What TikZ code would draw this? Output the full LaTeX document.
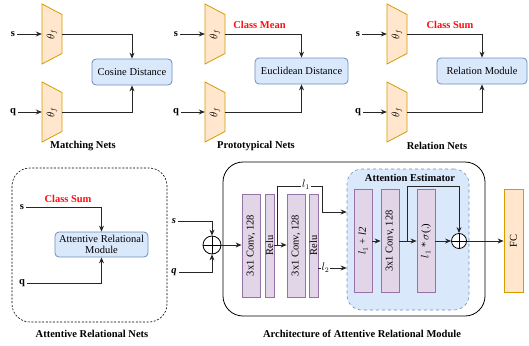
\documentclass[tikz,border=0pt]{standalone}
\usepackage{fontspec}
\setmainfont{Liberation Serif}
\usetikzlibrary{arrows.meta,calc}
\definecolor{orf}{HTML}{FFE6CC}
\definecolor{ors}{HTML}{D79B00}
\definecolor{blf}{HTML}{DAE8FC}
\definecolor{bls}{HTML}{6C8EBF}
\definecolor{puf}{HTML}{E1D5E7}
\definecolor{pus}{HTML}{9673A6}
\definecolor{myred}{HTML}{FF0D0D}
\newcommand\mytrap[3]{%
  \draw[trapst] ({#2-10},{#3-30}) -- ({#2+10},{#3-19.5}) -- ({#2+10},{#3+19.5}) -- ({#2-10},{#3+30}) -- cycle;
  \node[inner sep=0pt, minimum width=20pt, minimum height=39pt] (#1) at (#2,#3) {\rotatebox{90}{$\theta_f$}};}
\begin{document}
\begin{tikzpicture}[x=1pt,y=-1pt,
  font=\fontsize{10.5}{12}\selectfont,
  >={Stealth[length=6pt,width=5pt]},
  conn/.style={draw=black!85, line width=0.8pt},
  trapst/.style={draw=ors, fill=orf, line width=0.8pt},
  bluebox/.style={draw=bls, fill=blf, rounded corners=4pt, line width=0.8pt, inner sep=0pt, align=center},
  pbox/.style={draw=pus, fill=puf, line width=0.8pt, inner sep=0pt, minimum height=103pt},
  fcbox/.style={draw=ors, fill=orf, line width=0.8pt, inner sep=0pt, minimum height=103pt, minimum width=19pt},
  estst/.style={draw=bls, fill=blf, dashed, line width=0.6pt, rounded corners=15pt, inner sep=0pt},
  plus/.style={circle, draw=black, line width=0.8pt, fill=white, inner sep=0pt,
    path picture={\draw[line width=0.8pt] (path picture bounding box.north) -- (path picture bounding box.south)
      (path picture bounding box.west) -- (path picture bounding box.east);}},
  io/.style={font=\fontsize{10.5}{12}\selectfont\bfseries, inner sep=2pt},
  ioi/.style={font=\fontsize{10.5}{12}\selectfont\bfseries\itshape, inner sep=2pt},
  redlab/.style={font=\fontsize{10.5}{12}\selectfont\bfseries, text=myred},
  captxt/.style={font=\fontsize{10.5}{12}\selectfont\bfseries},
  lbl/.style={fill=white, inner sep=1pt}
]
\useasboundingbox (0,0) rectangle (529,345);

% ---------- Matching Nets
\mytrap{t1}{52}{34}
\mytrap{t2}{52}{112}
\node[io] (s1) at (13,34) {s};
\node[io] (q1) at (13,112) {q};
\node[bluebox, minimum width=80pt, minimum height=26pt] (cos) at (132,72) {Cosine Distance};
\draw[conn,->] (s1) -- (t1.west);
\draw[conn,->] (q1) -- (t2.west);
\draw[conn,->] (t1.east) -| (cos.north);
\draw[conn,->] (t2.east) -| (cos.south);
\node[captxt] (cap1) at (83,146) {Matching Nets};

% ---------- Prototypical Nets
\mytrap{t3}{215}{34}
\mytrap{t4}{215}{112}
\node[io] (s2) at (176,34) {s};
\node[io] (q2) at (176,112) {q};
\node[bluebox, minimum width=93pt, minimum height=26pt] (euc) at (301.5,71) {Euclidean Distance};
\draw[conn,->] (s2) -- (t3.west);
\draw[conn,->] (q2) -- (t4.west);
\draw[conn,->] (t3.east) -| (euc.north);
\draw[conn,->] (t4.east) -| (euc.south);
\node[redlab] (cm) at (259.5,25) {Class Mean};
\node[captxt] (cap2) at (256,146) {Prototypical Nets};

% ---------- Relation Nets
\mytrap{t5}{397}{34}
\mytrap{t6}{397}{112}
\node[io] (s3) at (358,34) {s};
\node[io] (q3) at (358,112) {q};
\node[bluebox, minimum width=90pt, minimum height=26pt] (rel) at (482,71) {Relation Module};
\draw[conn,->] (s3) -- (t5.west);
\draw[conn,->] (q3) -- (t6.west);
\draw[conn,->] (t5.east) -| (rel.north);
\draw[conn,->] (t6.east) -| (rel.south);
\node[redlab] (cs) at (450,25) {Class Sum};
\node[captxt] (cap3) at (437,146) {Relation Nets};

% ---------- Attentive Relational Nets
\draw[line width=0.6pt, dash pattern=on 2pt off 1.6pt, rounded corners=18pt] (12,168) rectangle (167,322);
\node[io] (s4) at (22,207) {s};
\node[io] (q4) at (22,283) {q};
\node[bluebox, minimum width=93pt, minimum height=25pt] (arm) at (101.5,244.5) {Attentive Relational\\[-1pt]Module};
\draw[conn,->] (s4) -| (arm.north);
\draw[conn,->] (q4) -| (arm.south);
\node[redlab] (cs2) at (68,199) {Class Sum};
\node[captxt] (cap4) at (92,334) {Attentive Relational Nets};

% ---------- Architecture
\draw[line width=0.8pt, rounded corners=20pt] (223,162) rectangle (485,316);
\node[ioi] (s5) at (174,221) {s};
\node[ioi] (q5) at (174,272) {q};
\node[plus, minimum size=18pt] (c1) at (212,245) {};
\draw[conn,->] (s5) -| (c1.north);
\draw[conn,->] (q5) -| (c1.south);

\node[pbox, minimum width=18pt] (conv1) at (251,245.5) {\rotatebox{90}{3x1 Conv, 128}};
\node[pbox, minimum width=9pt] (relu1) at (269.5,245.5) {\rotatebox{90}{Relu}};
\node[pbox, minimum width=18pt] (conv2) at (296,245.5) {\rotatebox{90}{3x1 Conv, 128}};
\node[pbox, minimum width=9pt] (relu2) at (313.5,245.5) {\rotatebox{90}{Relu}};
\draw[conn,->] (c1.east) -- (conv1.west |- c1.east);
\draw[conn,->] (relu1.east |- c1.east) -- (conv2.west |- c1.east);

\node[estst, minimum width=122pt, minimum height=141pt] (est) at (408,239.5) {};
\node[captxt] (esttitle) at (410,178) {Attention Estimator};

\coordinate (y186) at (0,186);
\coordinate (y212) at (0,212);
\coordinate (y268) at (0,268);
\coordinate (br1) at ($(relu1.east |- c1.east)+(3,0)$);
\coordinate (k1) at (322,186);
\draw[conn,->] (br1) |- (k1) |- (est.west |- y212);
\node[lbl] (l1lab) at (306,185) {$l_1$};
\draw[conn,->] (relu2.east |- y268) -- (est.west |- y268) node[lbl, pos=0.25] (l2lab) {$l_2$};

\node[pbox, minimum width=18pt] (e1) at (363,241) {\rotatebox{90}{$l_1$ + \textit{l2}}};
\node[pbox, minimum width=18pt] (e2) at (390,241) {\rotatebox{90}{3x1 Conv, 128}};
\node[pbox, minimum width=18pt] (e3) at (426,241) {\rotatebox{90}{$l_1$ * $\sigma$(.)}};
\node[plus, minimum size=15pt] (c2) at (459,241) {};
\node[fcbox] (fc) at (513.5,241) {\rotatebox{90}{FC}};
\draw[conn,->] (e1) -- (e2);
\draw[conn,->] (e2) -- (e3);
\draw[conn,->] (e3) -- (c2);
\draw[conn,->] (c2) -- (fc);
\coordinate (br2) at ($(e2.east)!0.45!(e3.west)$);
\draw[conn,->] (br2) -- (br2 |- y186) -| (c2.north);

\node[captxt] (cap5) at (362,334) {Architecture of Attentive Relational Module};
\end{tikzpicture}
\end{document}
